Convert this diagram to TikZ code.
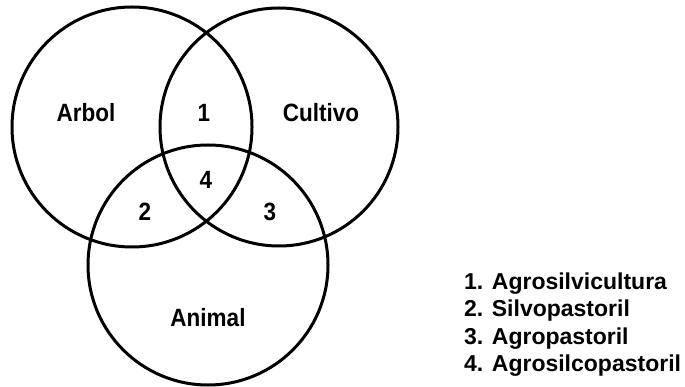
\documentclass[tikz,border=0pt]{standalone}
\usepackage{fontspec}
\setmainfont{Liberation Sans}
\newfontfamily\labelfont[FakeStretch=0.9]{Liberation Sans}
\begin{document}
\begin{tikzpicture}[x=1pt,y=-1pt,
  setcircle/.style={draw=black,line width=3pt},
  region/.style={font=\labelfont\bfseries\fontsize{25}{30}\selectfont,inner sep=0pt},
  legendline/.style={font=\bfseries\fontsize{23}{27}\selectfont,anchor=base west,inner sep=0pt}]
  \useasboundingbox (0,0) rectangle (685,387);
  % the three sets
  \draw[setcircle] (132,127) circle[radius=120];
  \draw[setcircle] (279,127) circle[radius=119];
  \draw[setcircle] (208,265) circle[radius=120];
  % set names
  \node[region] (arbol) at (86,113) {Arbol};
  \node[region] (cultivo) at (321,113) {Cultivo};
  \node[region] (animal) at (208,318) {Animal};
  % overlap numbers
  \node[region] (n1) at (204,113) {1};
  \node[region] (n4) at (206,180) {4};
  \node[region] (n2) at (145,212) {2};
  \node[region] (n3) at (270,212) {3};
  % key
  \node[legendline] (k1) at (464,289) {1. Agrosilvicultura};
  \node[legendline] (k2) at (464,316.5) {2. Silvopastoril};
  \node[legendline] (k3) at (464,344) {3. Agropastoril};
  \node[legendline] (k4) at (464,371.5) {4. Agrosilcopastoril};
\end{tikzpicture}
\end{document}
